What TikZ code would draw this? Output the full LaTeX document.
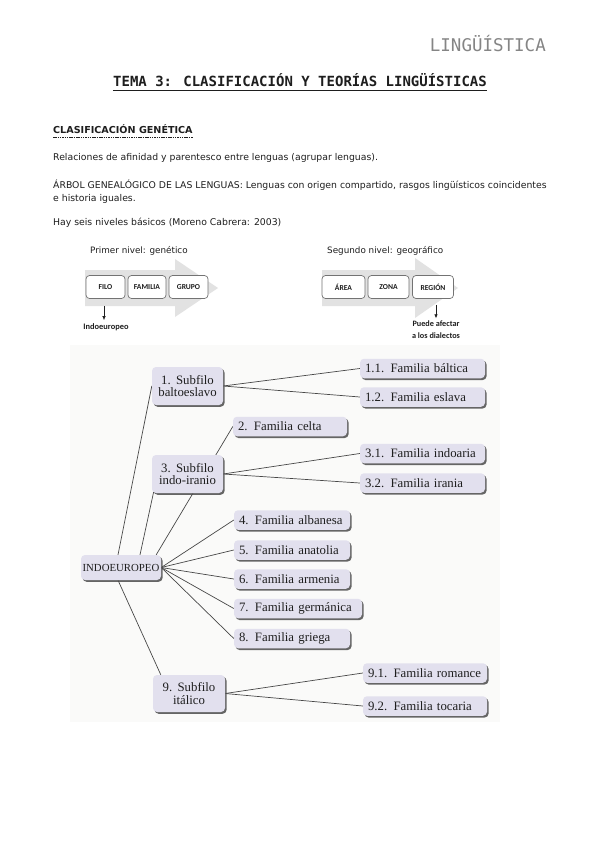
\documentclass[tikz,border=0pt]{standalone}
\usepackage{fontspec}
\setmainfont{Liberation Serif}
\newfontfamily\monof{DejaVu Sans Mono}
\newfontfamily\bodyf{DejaVu Sans}
\newfontfamily\boxf{Carlito}
\newfontfamily\treef{Liberation Serif}
\usetikzlibrary{shadows,calc,arrows.meta}
\pgfdeclarelayer{bglayer}
\pgfdeclarelayer{edgelayer}
\pgfsetlayers{bglayer,edgelayer,main}
\definecolor{boxfill}{RGB}{226,224,238}
\definecolor{scanbg}{RGB}{250,250,249}
\definecolor{arrowgray}{RGB}{226,226,226}
\definecolor{txt}{RGB}{30,30,30}
\tikzset{
  body/.style={anchor=base west, inner sep=0pt, text=txt, font=\bodyf\fontsize{9.3}{11}\selectfont},
  fbox/.style={draw=black!55, fill=white, rounded corners=3.5pt, line width=0.7pt,
    minimum height=23pt, inner sep=0pt, text=txt, font=\boxf\bfseries\fontsize{7.6}{9}\selectfont},
  tbox/.style={rounded corners=4pt, fill=boxfill, draw=none,
    drop shadow={shadow xshift=1.6pt, shadow yshift=-1.8pt, fill=black!70, opacity=0.85},
    text=txt, inner ysep=0pt},
  fam/.style={tbox, inner xsep=5pt, minimum height=19.5pt, align=left,
    font=\treef\fontsize{12.8}{13}\selectfont},
  sub/.style={tbox, inner xsep=2pt, minimum width=71pt, minimum height=38pt, align=center,
    font=\treef\fontsize{12.8}{12.8}\selectfont},
  conn/.style={draw=black!72, line width=0.7pt},
  down/.style={-{Latex[length=4pt,width=3.5pt]}, line width=0.7pt, draw=txt}
}
\begin{document}
\begin{tikzpicture}[x=1pt,y=-1pt]
\useasboundingbox (0,0) rectangle (599,848);
\begin{pgfonlayer}{bglayer}
\fill[white] (0,0) rectangle (599,848);
\fill[scanbg] (70,345) rectangle (500,722);
\end{pgfonlayer}

% header
\node[anchor=base east, inner sep=0pt, text=black!48, font=\monof\fontsize{17.5}{20}\selectfont] (hdr) at (546,52) {LINGÜÍSTICA};
\node[anchor=base, inner sep=0pt, text=txt, font=\monof\bfseries\fontsize{14}{16}\selectfont] (title) at (300,87) {TEMA 3: CLASIFICACIÓN Y TEORÍAS LINGÜÍSTICAS};
\draw[line width=0.8pt, txt] ($(title.base west)+(0,3.5)$) -- ($(title.base east)+(0,3.5)$);

\node[body, font=\bodyf\bfseries\fontsize{9.6}{11}\selectfont] (sec) at (53,134) {CLASIFICACIÓN GENÉTICA};
\draw[line width=0.6pt, txt, dash pattern=on 1.5pt off 0.8pt] ($(sec.base west)+(0,3)$) -- ($(sec.base east)+(0,3)$);

\node[body] (l1) at (53,160) {Relaciones de afinidad y parentesco entre lenguas (agrupar lenguas).};
\node[body] (l2) at (53,188) {ÁRBOL GENEALÓGICO DE LAS LENGUAS: Lenguas con origen compartido, rasgos lingüísticos coincidentes};
\node[body] (l3) at (53,201) {e historia iguales.};
\node[body] (l4) at (53,225) {Hay seis niveles básicos (Moreno Cabrera: 2003)};

% level diagrams
\node[body, font=\bodyf\fontsize{8.8}{10}\selectfont] (n1) at (90,253) {Primer nivel: genético};
\node[body, font=\bodyf\fontsize{8.8}{10}\selectfont] (n2) at (327,253) {Segundo nivel: geográfico};

\fill[arrowgray] (85,270) -- (175,270) -- (175,259) -- (218,288) -- (175,317) -- (175,306) -- (85,306) -- cycle;
\fill[arrowgray] (322,270) -- (415,270) -- (415,258) -- (458,288) -- (415,318) -- (415,306) -- (322,306) -- cycle;

\node[fbox, minimum width=39pt] (filo) at (105.5,287) {FILO};
\node[fbox, minimum width=38pt] (familia) at (147,287) {FAMILIA};
\node[fbox, minimum width=39pt] (grupo) at (188.5,287) {GRUPO};
\node[fbox, minimum width=43pt] (area) at (343.5,287) {ÁREA};
\node[fbox, minimum width=41pt] (zona) at (388.5,287) {ZONA};
\node[fbox, minimum width=41pt] (region) at (433,287) {REGIÓN};

\node[inner sep=0pt, text=txt, font=\boxf\bfseries\fontsize{8.4}{9}\selectfont] (indo) at (106,327) {Indoeuropeo};
\node[inner sep=0pt, text=txt, align=center, font=\boxf\bfseries\fontsize{8.2}{12}\selectfont] (puede) at (436,329.5) {Puede afectar\\a los dialectos};
\draw[down] ($(filo.south)+(-1.5,7)$) -- ($(filo.south |- indo.north)+(-1.5,-3)$);
\draw[down] ($(region.south)+(3,6)$) -- ($(region.south |- puede.north)+(3,-2)$);

% tree
\node[tbox, inner xsep=1pt, minimum width=80pt, minimum height=25pt, font=\treef\fontsize{10.8}{11}\selectfont] (root) at (121,567.5) {INDOEUROPEO};
\node[sub] (s1) at (187.5,386) {1.\ \,Subfilo\\baltoeslavo};
\node[sub] (s3) at (187.5,474) {3.\ \,Subfilo\\indo-iranio};
\node[sub, minimum width=72pt, minimum height=37pt] (s9) at (189,693.5) {9.\ \,Subfilo\\itálico};

\node[fam, text width=115pt] (f11) at (422.5,368.5) {1.1.\ \,Familia báltica};
\node[fam, text width=115pt] (f12) at (422.5,397) {1.2.\ \,Familia eslava};
\node[fam, text width=104pt] (f2) at (290,426.5) {2.\ \,Familia celta};
\node[fam, text width=115pt] (f31) at (422.5,453.5) {3.1.\ \,Familia indoaria};
\node[fam, text width=115pt] (f32) at (422.5,483) {3.2.\ \,Familia irania};
\node[fam, text width=106pt] (f4) at (292,520) {4.\ \,Familia albanesa};
\node[fam, text width=106pt] (f5) at (292,550) {5.\ \,Familia anatolia};
\node[fam, text width=106pt] (f6) at (292,579) {6.\ \,Familia armenia};
\node[fam, text width=118pt] (f7) at (298,608.5) {7.\ \,Familia germánica};
\node[fam, text width=106pt] (f8) at (292,638.5) {8.\ \,Familia griega};
\node[fam, text width=114pt] (f91) at (425,673) {9.1.\ \,Familia romance};
\node[fam, text width=114pt] (f92) at (425,706) {9.2.\ \,Familia tocaria};

\begin{pgfonlayer}{edgelayer}
\draw[conn] ($(root.north)+(-3,0)$) -- (s1.west);
\draw[conn] ($(root.north)+(19,0)$) -- ($(s3.south west)+(2,-2)$);
\draw[conn] ($(root.north east)+(-5,0)$) -- (f2.west);
\foreach \f in {f4,f5,f6,f7,f8} \draw[conn] (root.east) -- (\f.west);
\draw[conn] ($(root.south)+(-3,0)$) -- ($(s9.north west)+(8,0)$);
\draw[conn] (s1.east) -- (f11.west);
\draw[conn] (s1.east) -- (f12.west);
\draw[conn] (s3.east) -- (f31.west);
\draw[conn] (s3.east) -- (f32.west);
\draw[conn] (s9.east) -- (f91.west);
\draw[conn] (s9.east) -- (f92.west);
\end{pgfonlayer}
\end{tikzpicture}
\end{document}
